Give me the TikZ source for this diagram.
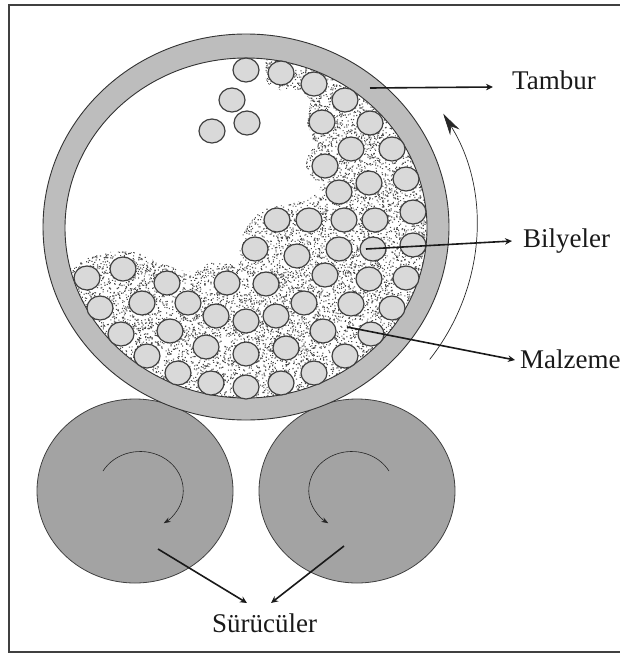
\documentclass[tikz,border=0pt]{standalone}
\usepackage{fontspec}
\setmainfont{Liberation Serif}
\usetikzlibrary{arrows.meta}

\begin{document}
\begin{tikzpicture}[
  x=1pt, y=-1pt,
  drumring/.style={fill=black!26, draw=black!80, line width=0.9pt, even odd rule},
  ballbody/.style={fill=black!15, draw=black!75, line width=1.2pt},
  roller/.style={fill=black!36, draw=black!75, line width=0.8pt},
  spin/.style={draw=black!85, line width=0.6pt, -{Stealth[length=7pt,width=5pt]}},
  pointer/.style={draw=black!90, line width=1.6pt, -{Stealth[length=7pt,width=6.5pt]}},
  turnarrow/.style={draw=black!85, line width=0.7pt, -{Stealth[length=22pt,width=11pt]}},
  lbl/.style={anchor=base west, inner sep=0pt, font=\fontsize{27}{30}\selectfont, text=black!90}
]

  \clip (0,0) rectangle (620,653);
  \draw[line width=2pt, draw=black!75] (9,5) rectangle (640,652);

  % --- Rollers ---
  \draw[roller] (135,491) ellipse (98 and 92);
  \draw[roller] (357,491) ellipse (98 and 92);

  \coordinate (spinL) at (103,471);
  \coordinate (spinR) at (389,471);
  \draw[spin] (spinL) arc[start angle=-150, end angle=57, x radius=43, y radius=39];
  \draw[spin] (spinR) arc[start angle=-30, end angle=-237, x radius=43, y radius=39];

  % --- Material ---
  \begin{scope}
    \clip (246,228) ellipse (181 and 170);
    \clip plot[smooth] coordinates {(264,50) (265,62) (267,82) (280,90) (297,90) (310,100)
      (307,122) (313,140) (306,167) (320,190) (297,202) (263,210) (247,227) (238,240)
      (240,263) (210,263) (193,272) (175,268) (153,260) (140,253) (110,252) (83,260) (66,268)}
      -- (40,280) -- (40,420) -- (450,420) -- (450,40) -- cycle;
    \pgfmathsetseed{4217}
    \foreach \j in {1,...,38}
      \fill[black!70] foreach \i in {1,...,200} { ({65+362*rnd},{250+150*rnd}) rectangle +(1.1,1.1) };
    \foreach \j in {1,...,6}
      \fill[black!70] foreach \i in {1,...,200} { ({240+187*rnd},{205+45*rnd}) rectangle +(1.1,1.1) };
    \foreach \j in {1,...,18}
      \fill[black!70] foreach \i in {1,...,200} { ({262+166*rnd},{55+150*rnd}) rectangle +(1.1,1.1) };
  \end{scope}

  % --- Drum ---
  \draw[drumring] (246,227) ellipse (203 and 193) (246,228) ellipse (181 and 170);

  % --- Balls ---
  \foreach \bx/\by in {246/70, 232/100, 247/123, 212/131, 281/73, 314/84, 345/100, 322/122,
    370/123, 351/149, 392/149, 325/166, 369/183, 406/179, 339/192, 413/212, 277/220, 309/220,
    344/220, 375/220, 413/245, 255/249, 297/256, 339/249, 373/249, 325/275, 369/279, 406/278,
    266/284, 304/303, 351/304, 392/308, 276/316, 246/321, 323/331, 371/334, 286/348, 345/356,
    246/354, 314/373, 281/383, 246/387, 87/278, 123/269, 100/308, 142/303, 167/283, 227/283,
    188/303, 216/316, 121/334, 170/331, 206/347, 147/356, 178/373, 211/383}
    \draw[ballbody] (\bx,\by) ellipse (13 and 12);

  % --- Labels ---
  \node[lbl] (tambur) at (512,89) {Tambur};
  \node[lbl] (bilyeler) at (523,247) {Bilyeler};
  \node[lbl] (malzeme) at (520,368) {Malzeme};
  \node[lbl] (suruculer) at (212,632) {Sürücüler};

  % --- Arrows ---
  \coordinate (tamburA) at (370,88);
  \coordinate (tamburB) at (493,87);
  \coordinate (bilyelerA) at (366,249);
  \coordinate (bilyelerB) at (512,241);
  \coordinate (malzemeA) at (347,327);
  \coordinate (malzemeB) at (515,360);
  \coordinate (driveL) at (158,549);
  \coordinate (driveR) at (344,546);
  \coordinate (suruculerL) at (247,603);
  \coordinate (suruculerR) at (271,603);
  \coordinate (turnA) at (429.7,359.4);

  \draw[pointer] (tamburA) -- (tamburB);
  \draw[pointer] (bilyelerA) -- (bilyelerB);
  \draw[pointer] (malzemeA) -- (malzemeB);
  \draw[pointer] (driveL) -- (suruculerL);
  \draw[pointer] (driveR) -- (suruculerR);
  \draw[turnarrow] (turnA) arc[start angle=37, end angle=-31, x radius=230, y radius=220];

\end{tikzpicture}
\end{document}
